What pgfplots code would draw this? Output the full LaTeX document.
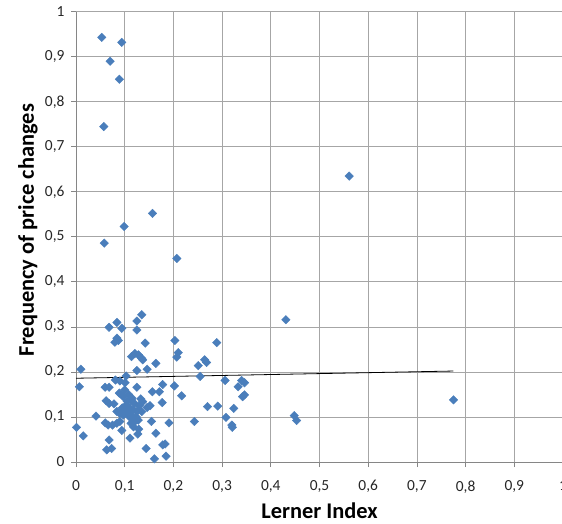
\documentclass[border=0pt]{standalone}
\usepackage{pgfplots}
\pgfplotsset{compat=1.18}
\usepackage{fontspec}
\setmainfont{Carlito}

\definecolor{markblue}{RGB}{74,126,187}
\definecolor{gridgray}{RGB}{166,166,166}
\definecolor{axisgray}{RGB}{134,134,134}

\begin{document}
\begin{tikzpicture}[x=1bp,y=1bp]
\begin{axis}[
    at={(76bp,62bp)}, anchor=south west,
    scale only axis,
    width=487bp, height=450.3bp,
    xmin=0, xmax=1, ymin=0, ymax=1,
    xtick={0,0.1,...,1}, ytick={0,0.1,...,1},
    xticklabels={0,{0,1},{0,2},{0,3},{0,4},{0,5},{0,6},{0,7},{0,8},{0,9},1},
    yticklabels={0,{0,1},{0,2},{0,3},{0,4},{0,5},{0,6},{0,7},{0,8},{0,9},1},
    tick label style={font=\fontsize{15.5}{15.5}\selectfont, text=black!85},
    xticklabel style={yshift=-10bp},
    yticklabel style={xshift=-3bp},
    tick pos=left, tick align=outside,
    major tick length=5bp,
    tick style={axisgray, line width=0.8bp},
    grid=major,
    major grid style={gridgray, line width=0.8bp},
    axis line style={axisgray, line width=0.8bp},
    axis x line*=bottom, axis y line*=left,
    clip=false,
    xlabel={Lerner Index},
    ylabel={Frequency of price changes},
    label style={font=\fontsize{22.5}{22.5}\selectfont\bfseries},
    xlabel style={at={(axis description cs:0.5,-0.108)}, anchor=center, inner sep=1bp},
    ylabel style={at={(axis description cs:-0.0986,0.515)}, anchor=center},
]

% observations
\addplot[only marks, mark=square*, mark size=3bp,
         mark options={rotate=45, fill=markblue, draw=markblue}]
coordinates {
(0.053,0.943) (0.094,0.932) (0.070,0.890) (0.089,0.850) (0.057,0.745)
(0.561,0.635) (0.157,0.552) (0.099,0.523) (0.058,0.486) (0.207,0.452)
(0.431,0.316) (0.135,0.327) (0.084,0.310) (0.125,0.313) (0.068,0.299)
(0.094,0.297) (0.125,0.293) (0.084,0.275) (0.087,0.270) (0.080,0.266)
(0.142,0.264) (0.203,0.270) (0.289,0.265) (0.210,0.243) (0.207,0.233)
(0.114,0.234) (0.121,0.241) (0.128,0.238) (0.135,0.230) (0.137,0.227)
(0.264,0.227) (0.268,0.221) (0.164,0.219) (0.251,0.214) (0.125,0.203)
(0.146,0.206) (0.010,0.206) (0.103,0.191) (0.255,0.190) (0.081,0.182)
(0.090,0.180) (0.101,0.176) (0.306,0.181) (0.340,0.181) (0.346,0.176)
(0.333,0.167) (0.007,0.167) (0.060,0.166) (0.068,0.166) (0.125,0.166)
(0.178,0.172) (0.202,0.169) (0.157,0.156) (0.171,0.156) (0.217,0.147)
(0.342,0.145) (0.346,0.149) (0.089,0.153) (0.094,0.149) (0.097,0.145)
(0.062,0.136) (0.068,0.130) (0.078,0.129) (0.114,0.138) (0.137,0.134)
(0.177,0.132) (0.152,0.125) (0.146,0.121) (0.270,0.123) (0.291,0.124)
(0.324,0.119) (0.104,0.127) (0.111,0.119) (0.118,0.116) (0.125,0.112)
(0.135,0.112) (0.084,0.112) (0.090,0.108) (0.097,0.104) (0.104,0.108)
(0.041,0.102) (0.109,0.101) (0.116,0.095) (0.121,0.090) (0.128,0.093)
(0.308,0.099) (0.448,0.103) (0.453,0.092) (0.060,0.087) (0.066,0.082)
(0.075,0.082) (0.084,0.086) (0.090,0.090) (0.113,0.086) (0.118,0.078)
(0.155,0.090) (0.191,0.087) (0.243,0.090) (0.320,0.082) (0.321,0.077)
(0.001,0.077) (0.094,0.070) (0.127,0.062) (0.129,0.073) (0.164,0.064)
(0.015,0.058) (0.111,0.053) (0.068,0.049) (0.073,0.030) (0.063,0.027)
(0.144,0.030) (0.178,0.038) (0.183,0.040) (0.185,0.013) (0.161,0.007)
(0.775,0.138) (0.100,0.160) (0.108,0.150) (0.115,0.142) (0.120,0.130)
(0.130,0.125) (0.133,0.140) (0.105,0.135) (0.112,0.105) (0.124,0.100)
(0.095,0.120) (0.100,0.115)
};

% linear trend
\addplot[black, line width=0.8bp] coordinates {(0,0.186) (0.775,0.202)};

\end{axis}
\pgfresetboundingbox
\useasboundingbox (0,0) rectangle (562bp,524bp);
\end{tikzpicture}
\end{document}
